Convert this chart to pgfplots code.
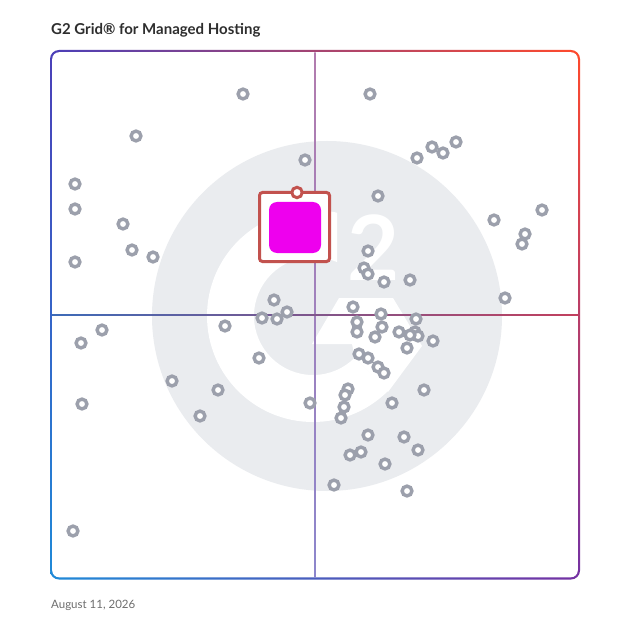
\documentclass[border=0pt]{standalone}
\usepackage{fontspec}
\setmainfont{Lato}
\usepackage{pgfplots}
\pgfplotsset{compat=1.18}
\usetikzlibrary{shadings}
\definecolor{ptgrey}{HTML}{9CA0AC}
\definecolor{logogrey}{HTML}{EAECEF}
\definecolor{bTL}{HTML}{4B3FB8}
\definecolor{bTR}{HTML}{FF4A2C}
\definecolor{bBL}{HTML}{1F8AD8}
\definecolor{bBR}{HTML}{7431A3}
\definecolor{vtop}{HTML}{B27CAE}
\definecolor{vbot}{HTML}{8C86CC}
\definecolor{hleft}{HTML}{3D6BB8}
\definecolor{hright}{HTML}{C2405E}
\definecolor{boxred}{HTML}{C2524E}
\definecolor{g2mag}{HTML}{EE00EE}
\definecolor{titlecol}{HTML}{2E2E2E}
\definecolor{datecol}{HTML}{6E6E6E}

\pgfdeclareplotmark{g2box}{%
  \pgfsetlinewidth{3pt}%
  \pgfsetstrokecolor{boxred}\pgfsetfillcolor{white}%
  \begin{pgfscope}\pgfsetcornersarced{\pgfpoint{3pt}{3pt}}%
    \pgfpathrectangle{\pgfpoint{-35pt}{-34.5pt}}{\pgfpoint{70pt}{69pt}}%
    \pgfusepath{fill,stroke}\end{pgfscope}%
  \begin{pgfscope}\pgfsetcornersarced{\pgfpoint{8pt}{8pt}}\pgfsetfillcolor{g2mag}%
    \pgfpathrectangle{\pgfpoint{-25.5pt}{-26pt}}{\pgfpoint{52pt}{51pt}}%
    \pgfusepath{fill}\end{pgfscope}%
  \pgfsetstrokecolor{boxred}\pgfsetfillcolor{white}%
  \pgfpathcircle{\pgfpoint{2.5pt}{34.5pt}}{5.2pt}%
  \pgfusepath{fill,stroke}%
}

\begin{document}
\begin{tikzpicture}
\begin{axis}[
  x=1pt, y=1pt, y dir=reverse,
  xmin=0, xmax=628, ymin=0, ymax=628,
  hide axis, clip=true,
]
% background
\fill[white] (0,0) rectangle (628,628);
% gradient frame
\shade[upper left=bTL, upper right=bTR, lower left=bBL, lower right=bBR, rounded corners=9pt] (50,50) rectangle (580,579.5);
\fill[white, rounded corners=7pt] (52.2,52.2) rectangle (577.8,577.3);
% G2 logo watermark
\fill[logogrey] (327,316) circle[radius=175];
\begin{scope}
  \clip (150,150) -- (337,150) -- (337,316) -- (313,316) -- (450,453) -- (150,453) -- cycle;
  \fill[white, even odd rule] (313,316) circle[radius=106] (313,316) circle[radius=59];
\end{scope}
\fill[white] (312,344) -- (339,298) -- (393,298) -- (422,346) -- (388,392) -- (355,358) -- (352,344) -- cycle;
\node[text=white, inner sep=0pt, font=\fontsize{90}{90}\selectfont\bfseries] at (374,247.5) {2};
% quadrant lines
\shade[top color=vtop, bottom color=vbot] (314.3,52.2) rectangle (315.7,577.3);
\shade[left color=hleft, right color=hright] (52.2,314.1) rectangle (577.8,315.5);
% products
\addplot[only marks, mark=*, mark size=4.9pt,
  mark options={draw=ptgrey, fill=white, line width=3.4pt}] coordinates {
(243,94) (136,136) (305,160) (75,184) (75,209) (123,224) (132,250) (153,257) (75,262) (274,300)
(287,312) (262,318) (277,319) (225,326) (102,330) (81,343) (259,358) (172,381) (218,390) (200,416)
(82,404) (73,531) (310,403)
(370,94) (417,158) (432,147) (443,153) (456,142) (378,196) (494,220) (542,210) (525,234) (522,244)
(368,251) (364,268) (368,274) (384,282) (410,280) (505,298) (353,307) (381,314)
(416,319) (357,322) (382,327) (357,332) (375,337) (399,332) (415,332) (418,336) (410,335) (407,348)
(433,341) (359,354) (368,358) (378,367) (384,373) (348,389) (345,395) (344,407) (341,418) (392,403)
(424,390) (368,435) (404,437) (418,450) (350,455) (361,452) (385,464) (334,485) (407,491)
};
% highlighted product
\addplot[only marks, mark=g2box] coordinates {(294.5,227)};
% texts
\node[anchor=base west, inner sep=0pt, text=titlecol, font=\fontsize{15}{16}\selectfont\bfseries] at (51,35) {G2 Grid® for Managed Hosting};
\node[anchor=base west, inner sep=0pt, text=datecol, font=\fontsize{11.5}{13}\selectfont] at (51,608) {August 11, 2026};
\end{axis}
\end{tikzpicture}
\end{document}
